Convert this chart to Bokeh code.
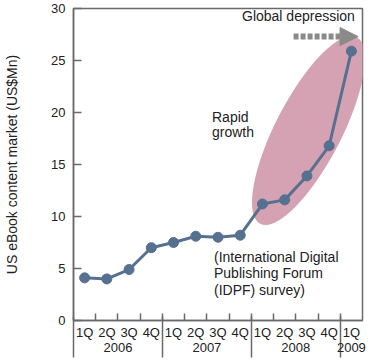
import numpy as np
from bokeh.plotting import figure
from bokeh.models import LinearAxis, FixedTicker, Range1d, Label, Arrow, NormalHead
from bokeh.embed import file_html
from bokeh.resources import INLINE

quarters = ["1Q", "2Q", "3Q", "4Q", "1Q", "2Q", "3Q", "4Q", "1Q", "2Q", "3Q", "4Q", "1Q"]
years = ["2006", "2007", "2008", "2009"]
year_counts = [4, 4, 4, 1]
values = [4.1, 4.0, 4.9, 7.0, 7.5, 8.1, 8.0, 8.2, 11.2, 11.6, 13.9, 16.8, 25.9]
y_ticks = [0, 5, 10, 15, 20, 25, 30]

FONT = "Liberation Sans"
TXT = "#222222"
AX = "#6a6a6a"
LINE = "#56708f"

n = len(values)
xs = np.arange(n) + 0.5

p = figure(width=378, height=360, output_backend="svg", toolbar_location=None,
           x_range=Range1d(0, n), y_range=Range1d(0, 30),
           min_border_left=73, min_border_right=16, min_border_top=8, min_border_bottom=40,
           x_axis_location=None)
p.xgrid.visible = False
p.ygrid.visible = False
p.outline_line_color = AX
p.outline_line_width = 1.5
p.background_fill_color = "white"

# y axis
ya = p.yaxis[0]
ya.ticker = FixedTicker(ticks=y_ticks)
ya.major_tick_in = 8
ya.major_tick_out = 0
ya.minor_tick_line_color = None
ya.major_tick_line_color = AX
ya.major_tick_line_width = 1.5
ya.axis_line_color = AX
ya.axis_line_width = 1.5
ya.major_label_standoff = 8
ya.major_label_text_font = FONT
ya.major_label_text_font_size = "13px"
ya.major_label_text_color = TXT
ya.axis_label = "US eBook content market (US$Mn)"
ya.axis_label_text_font = FONT
ya.axis_label_text_font_size = "14px"
ya.axis_label_text_font_style = "normal"
ya.axis_label_text_color = TXT
ya.axis_label_standoff = 28

# quarter axis
bounds = list(range(1, n))
qa = LinearAxis(ticker=FixedTicker(ticks=list(xs), minor_ticks=bounds))
qa.major_label_overrides = {float(x): q for x, q in zip(xs, quarters)}
qa.major_tick_in = 0
qa.major_tick_out = 0
qa.minor_tick_in = 7
qa.minor_tick_out = 0
qa.minor_tick_line_color = AX
qa.minor_tick_line_width = 1.5
qa.axis_line_color = AX
qa.axis_line_width = 1.5
qa.major_label_standoff = 4
qa.major_label_text_font = FONT
qa.major_label_text_font_size = "13px"
qa.major_label_text_color = TXT
p.add_layout(qa, "below")

# year axis with separators
starts = np.concatenate([[0], np.cumsum(year_counts)[:-1]])
centers = starts + np.array(year_counts) / 2.0
yr = LinearAxis(ticker=FixedTicker(ticks=list(centers), minor_ticks=list(starts)))
yr.major_label_overrides = {float(c): y for c, y in zip(centers, years)}
yr.major_tick_in = 0
yr.major_tick_out = 0
yr.minor_tick_in = 26
yr.minor_tick_out = 15
yr.minor_tick_line_color = AX
yr.minor_tick_line_width = 1.5
yr.axis_line_color = None
yr.major_label_standoff = -15
yr.major_label_text_font = FONT
yr.major_label_text_font_size = "13px"
yr.major_label_text_color = TXT
p.add_layout(yr, "below")

# ellipse highlight
p.ellipse(x=[10.57], y=[18.27], width=[210], height=[66], angle=[np.deg2rad(62.6)],
          width_units="screen", height_units="screen",
          fill_color="#d4a2b2", line_color=None)

# data line
p.line(xs, values, line_color=LINE, line_width=3)
p.scatter(xs, values, size=10, fill_color=LINE, line_color=LINE)

# arrow
p.add_layout(Arrow(x_start=9.9, y_start=27.3, x_end=12.8, y_end=27.3,
                   line_color="#8a8a8a", line_width=6, line_dash="5 2",
                   end=NormalHead(size=18, fill_color="#8a8a8a", line_color="#8a8a8a")))

def lab(x, y, t):
    p.add_layout(Label(x=x, y=y, text=t, text_font=FONT, text_font_size="14px",
                       text_color=TXT, text_baseline="middle", text_align="left"))

lab(7.58, 29.3, "Global depression")
lab(6.23, 19.6, "Rapid")
lab(6.23, 18.15, "growth")
lab(6.32, 6.06, "(International Digital")
lab(6.32, 4.52, "Publishing Forum")
lab(6.32, 2.98, "(IDPF) survey)")

open("out.html", "w").write(file_html(p, INLINE))
